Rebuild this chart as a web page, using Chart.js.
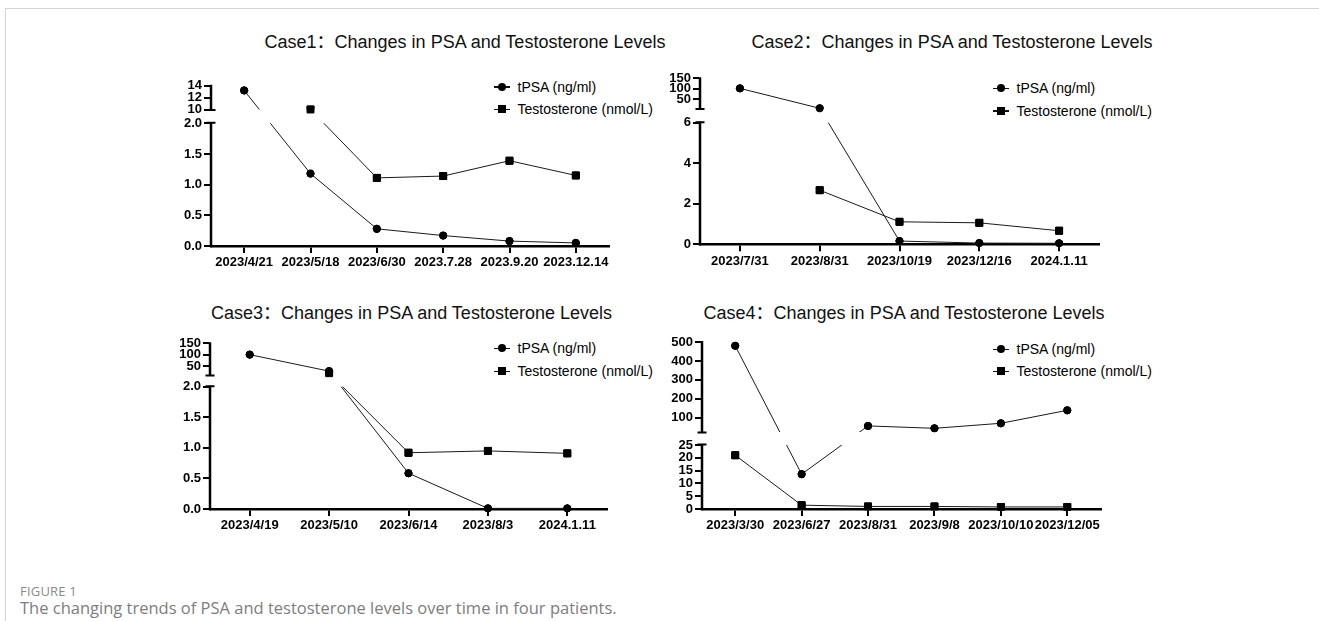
<!DOCTYPE html>
<html>
<head>
<meta charset="utf-8">
<script src="https://cdn.jsdelivr.net/npm/chart.js@4.4.1/dist/chart.umd.min.js"></script>
<style>
html,body{margin:0;padding:0;background:#fff;}
body{width:1319px;height:621px;position:relative;overflow:hidden;font-family:"Liberation Sans",Arial,sans-serif;}
.frame-top{position:absolute;left:5px;top:8px;width:1314px;height:1px;background:#d4d4d4;}
.frame-left{position:absolute;left:5px;top:8px;width:1px;height:613px;background:#d4d4d4;}
.title{position:absolute;font-size:18px;color:#111;white-space:nowrap;transform:translate(-50%,-50%);line-height:1;font-family:"Liberation Sans","Noto Sans CJK SC",sans-serif;}
canvas.cv{position:absolute;}
.leg{position:absolute;height:14px;white-space:nowrap;}
.leg .ln{position:absolute;left:0;top:6.5px;width:16px;height:1.4px;background:#111;}
.leg .mk{position:absolute;left:4px;top:3px;width:8px;height:8px;background:#000;}
.leg .mk.circle{border-radius:50%;}
.leg .tx{position:absolute;left:23.5px;top:0;font-size:14px;line-height:14px;color:#000;font-family:"Liberation Sans",Arial,sans-serif;}
.figlabel{position:absolute;left:20px;top:582px;font-family:"Open Sans","Noto Sans",sans-serif;font-size:13px;color:#8a8a8a;letter-spacing:0.2px;}
.figcap{position:absolute;left:20px;top:596px;font-family:"Open Sans","Noto Sans",sans-serif;font-size:16.5px;color:#7d7d7d;white-space:nowrap;}
</style>
</head>
<body>
<div class="frame-top"></div>
<div class="frame-left"></div>
<div class="figlabel">FIGURE 1</div>
<div class="figcap">The changing trends of PSA and testosterone levels over time in four patients.</div>
<script>
// ---------- DATA ----------
const seriesNames = ['tPSA (ng/ml)', 'Testosterone (nmol/L)'];
const caseTitles = [
  'Case1\uFF1AChanges in PSA and Testosterone Levels',
  'Case2\uFF1AChanges in PSA and Testosterone Levels',
  'Case3\uFF1AChanges in PSA and Testosterone Levels',
  'Case4\uFF1AChanges in PSA and Testosterone Levels'
];

const case1Dates = ['2023/4/21','2023/5/18','2023/6/30','2023.7.28','2023.9.20','2023.12.14'];
const case1PSA = [13.2, 1.18, 0.28, 0.17, 0.08, 0.05];
const case1Testosterone = [null, 10.0, 1.11, 1.14, 1.39, 1.15];
const case1LowerTicks = [0, 0.5, 1.0, 1.5, 2.0];
const case1UpperTicks = [10, 12, 14];
const case1Range = {min: 0, lowerMax: 2, upperMin: 10, max: 14, lowerDecimals: 1};

const case2Dates = ['2023/7/31','2023/8/31','2023/10/19','2023/12/16','2024.1.11'];
const case2PSA = [102, 7, 0.16, 0.06, 0.05];
const case2Testosterone = [null, 2.67, 1.11, 1.06, 0.67];
const case2LowerTicks = [0, 2, 4, 6];
const case2UpperTicks = [50, 100, 150];
const case2Range = {min: 0, lowerMax: 6, upperMin: 6, max: 150, lowerDecimals: 0};

const case3Dates = ['2023/4/19','2023/5/10','2023/6/14','2023/8/3','2024.1.11'];
const case3PSA = [100, 27, 0.585, 0.01, 0.01];
const case3Testosterone = [null, 18, 0.92, 0.95, 0.91];
const case3LowerTicks = [0, 0.5, 1.0, 1.5, 2.0];
const case3UpperTicks = [50, 100, 150];
const case3Range = {min: 0, lowerMax: 2, upperMin: 10, max: 150, lowerDecimals: 1};

const case4Dates = ['2023/3/30','2023/6/27','2023/8/31','2023/9/8','2023/10/10','2023/12/05'];
const case4PSA = [480, 13.6, 57, 44.5, 71, 139.5];
const case4Testosterone = [21, 1.5, 1.0, 1.0, 0.8, 0.8];
const case4LowerTicks = [0, 5, 10, 15, 20, 25];
const case4UpperTicks = [100, 200, 300, 400, 500];
const case4Range = {min: 0, lowerMax: 25, upperMin: 25, max: 500, lowerDecimals: 0};

// ---------- LAYOUT (pixels) ----------
const panelLayout = [
  {L:211, R:609,    T:85.7,  B:246,   lowTop:123.3, upBot:109.5, titleX:465,   titleY:41.5, legX:494, legY:[86.7,109]},
  {L:700, R:1099,   T:78.3,  B:244.3, lowTop:122.7, upBot:108.5, titleX:952,   titleY:41.5, legX:993, legY:[88.3,110.7]},
  {L:210, R:607,    T:343.3, B:509,   lowTop:386.7, upBot:375,   titleX:411.5, titleY:313,  legX:494, legY:[348.3,371]},
  {L:702, R:1100.5, T:342,   B:509,   lowTop:445,   upBot:432,   titleX:904,   titleY:313,  legX:993, legY:[349,371]}
];

const panelData = [
  {dates: case1Dates, psa: case1PSA, testo: case1Testosterone, lower: case1LowerTicks, upper: case1UpperTicks, range: case1Range},
  {dates: case2Dates, psa: case2PSA, testo: case2Testosterone, lower: case2LowerTicks, upper: case2UpperTicks, range: case2Range},
  {dates: case3Dates, psa: case3PSA, testo: case3Testosterone, lower: case3LowerTicks, upper: case3UpperTicks, range: case3Range},
  {dates: case4Dates, psa: case4PSA, testo: case4Testosterone, lower: case4LowerTicks, upper: case4UpperTicks, range: case4Range}
];

// ---------- Broken (two-segment) linear scale ----------
class BrokenScale extends Chart.LinearScale {
  breakPixels() {
    const o = this.options;
    const lowTop = this.bottom - o.lowerPx;
    const upBot = lowTop - o.gapPx;
    return {lowTop, upBot};
  }
  getPixelForValue(value) {
    const o = this.options;
    const {lowTop, upBot} = this.breakPixels();
    if (value <= o.lowerMax) {
      return this.bottom - (value - o.min) / (o.lowerMax - o.min) * (this.bottom - lowTop);
    }
    if (value >= o.upperMin) {
      return upBot - (value - o.upperMin) / (o.max - o.upperMin) * (upBot - this.top);
    }
    return lowTop - (value - o.lowerMax) / (o.upperMin - o.lowerMax) * (lowTop - upBot);
  }
  getValueForPixel(pixel) {
    const o = this.options;
    const {lowTop, upBot} = this.breakPixels();
    if (pixel >= lowTop) return o.min + (this.bottom - pixel) / (this.bottom - lowTop) * (o.lowerMax - o.min);
    if (pixel <= upBot) return o.upperMin + (upBot - pixel) / (upBot - this.top) * (o.max - o.upperMin);
    return o.lowerMax + (lowTop - pixel) / (lowTop - upBot) * (o.upperMin - o.lowerMax);
  }
  drawBorder() {
    const ctx = this.ctx;
    const o = this.options;
    const x = this.right;
    const {lowTop, upBot} = this.breakPixels();
    const w = o.axisLineWidth;
    ctx.save();
    ctx.strokeStyle = o.axisLineColor;
    ctx.lineWidth = w;
    ctx.lineCap = 'butt';
    ctx.beginPath();
    ctx.moveTo(x, this.top - 1);
    ctx.lineTo(x, upBot + 1);
    ctx.moveTo(x, lowTop - 1);
    ctx.lineTo(x, this.bottom + w / 2);
    ctx.stroke();
    ctx.lineWidth = 2;
    ctx.beginPath();
    ctx.moveTo(x - 4.5, upBot + 0.5);
    ctx.lineTo(x + 4.5, upBot + 0.5);
    ctx.moveTo(x - 4.5, lowTop - 0.5);
    ctx.lineTo(x + 4.5, lowTop - 0.5);
    ctx.stroke();
    ctx.restore();
  }
}
BrokenScale.id = 'broken';
BrokenScale.defaults = Chart.LinearScale.defaults;
Chart.register(BrokenScale);

// hide the lines inside the axis break, keep the markers whole
const breakGapPlugin = {
  id: 'breakGap',
  beforeDatasetDraw(chart) {
    const y = chart.scales.y, a = chart.chartArea, ctx = chart.ctx;
    const {lowTop, upBot} = y.breakPixels();
    ctx.save();
    ctx.beginPath();
    ctx.rect(a.left - 20, a.top - 20, a.right - a.left + 40, upBot - a.top + 20);
    ctx.rect(a.left - 20, lowTop, a.right - a.left + 40, a.bottom - lowTop + 20);
    ctx.clip();
  },
  afterDatasetDraw(chart, args) {
    chart.ctx.restore();
    args.meta.data.forEach(p => p.draw(chart.ctx, chart.chartArea));
  }
};

const tickFont = {family: '"Liberation Sans", Arial, sans-serif', size: 13, weight: 'bold'};

function addTitle(text, x, y) {
  const d = document.createElement('div');
  d.className = 'title';
  d.textContent = text;
  d.style.left = x + 'px';
  d.style.top = y + 'px';
  document.body.appendChild(d);
}

function addLegendRow(x, y, shape, text) {
  const row = document.createElement('div');
  row.className = 'leg';
  row.style.left = x + 'px';
  row.style.top = (y - 7) + 'px';
  row.innerHTML = '<div class="ln"></div><div class="mk ' + shape + '"></div><span class="tx"></span>';
  row.querySelector('.tx').textContent = text;
  document.body.appendChild(row);
}

panelData.forEach((pd, i) => {
  const lay = panelLayout[i];
  addTitle(caseTitles[i], lay.titleX, lay.titleY);
  addLegendRow(lay.legX, lay.legY[0], 'circle', seriesNames[0]);
  addLegendRow(lay.legX, lay.legY[1], 'square', seriesNames[1]);

  const cl = Math.round(lay.L) - 50;
  const ct = Math.floor(lay.T) - 10;
  const cw = Math.ceil(lay.R) + 12 - cl;
  const ch = Math.ceil(lay.B) + 40 - ct;
  const padTop = lay.T - ct;
  const padRight = cl + cw - lay.R;
  const xAxisH = ct + ch - lay.B;

  const cv = document.createElement('canvas');
  cv.className = 'cv';
  cv.width = cw; cv.height = ch;
  cv.style.left = cl + 'px'; cv.style.top = ct + 'px';
  cv.style.width = cw + 'px'; cv.style.height = ch + 'px';
  document.body.appendChild(cv);

  const r = pd.range;
  const fmt = v => (v <= r.lowerMax ? Number(v).toFixed(r.lowerDecimals) : String(v));

  new Chart(cv.getContext('2d'), {
    type: 'line',
    data: {
      labels: pd.dates,
      datasets: [
        {label: seriesNames[0], data: pd.psa, borderColor: '#1a1a1a', borderWidth: 1, fill: false, tension: 0,
         pointStyle: 'circle', pointRadius: 3.6, pointBackgroundColor: '#000', pointBorderColor: '#000', pointBorderWidth: 1, spanGaps: false},
        {label: seriesNames[1], data: pd.testo, borderColor: '#1a1a1a', borderWidth: 1, fill: false, tension: 0,
         pointStyle: 'rect', pointRadius: 4.9, pointBackgroundColor: '#000', pointBorderColor: '#000', pointBorderWidth: 1, spanGaps: false}
      ]
    },
    options: {
      responsive: false,
      maintainAspectRatio: false,
      devicePixelRatio: 1,
      animation: false,
      events: [],
      layout: {padding: {left: 0, top: padTop, right: padRight, bottom: 0}},
      plugins: {legend: {display: false}, tooltip: {enabled: false}, title: {display: false}},
      scales: {
        x: {
          type: 'category',
          offset: true,
          afterFit: s => { s.height = xAxisH; },
          grid: {display: true, offset: false, drawOnChartArea: false, drawTicks: true, tickLength: 7, tickWidth: 2, tickColor: '#000', color: '#000', lineWidth: 2},
          border: {display: true, width: 2.5, color: '#000'},
          ticks: {autoSkip: false, maxRotation: 0, minRotation: 0, color: '#000', font: tickFont, padding: 2}
        },
        y: {
          type: 'broken',
          position: 'left',
          min: r.min, max: r.max,
          lowerMax: r.lowerMax, upperMin: r.upperMin,
          lowerPx: lay.B - lay.lowTop, gapPx: lay.lowTop - lay.upBot,
          axisLineWidth: 2.5, axisLineColor: '#000',
          afterBuildTicks: s => { s.ticks = pd.lower.concat(pd.upper).map(v => ({value: v})); },
          afterFit: s => { s.width = 50; },
          grid: {display: true, drawOnChartArea: false, drawTicks: true, tickLength: 7, tickWidth: 2, tickColor: '#000', color: '#000', lineWidth: 2},
          border: {display: true, width: 2.5, color: '#000'},
          ticks: {autoSkip: false, color: '#000', font: tickFont, padding: 2, callback: v => fmt(v)}
        }
      }
    },
    plugins: [breakGapPlugin]
  });
});
</script>
</body>
</html>
